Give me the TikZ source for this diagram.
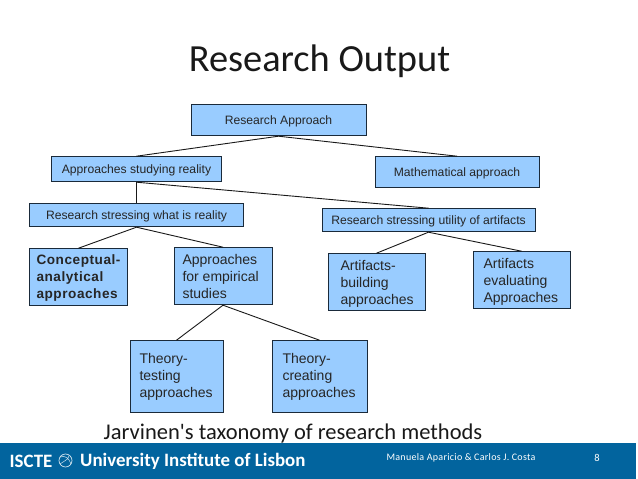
\documentclass[tikz,border=0pt]{standalone}
\usepackage{fontspec}
\setmainfont{Liberation Sans}
\newfontfamily\carlito{Carlito}
\definecolor{boxblue}{HTML}{99CCFF}
\definecolor{bandblue}{HTML}{02649E}
\definecolor{boxline}{HTML}{1A2A3A}
\tikzset{
  bx/.style={draw=boxline,fill=boxblue,line width=1bp,inner sep=0pt,font=\fontsize{12.15bp}{17bp}\selectfont,text=black!85},
  multi/.style={bx,align=left,font=\fontsize{14bp}{17bp}\selectfont},
  link/.style={draw=black!90,line width=0.9bp},
  banner/.style={inner sep=0pt,text=white,font=\carlito},
}
\newcommand{\boxat}[7][bx]{% style, name, x1,y1,x2,y2, text
  \pgfmathsetmacro{\cx}{(#3+#5)/2}\pgfmathsetmacro{\cy}{(#4+#6)/2+0.7}
  \pgfmathsetmacro{\bw}{#5-#3}\pgfmathsetmacro{\bh}{#6-#4}
  \node[#1,minimum width=\bw bp,minimum height=\bh bp] (#2) at (\cx,\cy) {};
  \node[#1,draw=none,fill=none] at (\cx,\cy+1.3) {#7};
}
\newcommand{\mboxat}[8]{% name, x1,y1,x2,y2, text x, text y, text
  \pgfmathsetmacro{\cx}{(#2+#4)/2}\pgfmathsetmacro{\cy}{(#3+#5)/2+0.7}
  \pgfmathsetmacro{\bw}{#4-#2}\pgfmathsetmacro{\bh}{#5-#3}
  \node[multi,minimum width=\bw bp,minimum height=\bh bp] (#1) at (\cx,\cy) {};
  \node[multi,draw=none,fill=none,anchor=west] at (#6,#7+0.8) {#8};
}
\begin{document}
\begin{tikzpicture}[x=1bp,y=-1bp]
\useasboundingbox (0,0) rectangle (638,479);
\fill[white] (0,0) rectangle (638,479);
\fill[bandblue] (0,442.5) rectangle (636,478.5);

\node[inner sep=0pt,font=\carlito\fontsize{38.4bp}{42bp}\selectfont,text=black!90] (title) at (319.5,61) {Research Output};
\node[inner sep=0pt,font=\carlito\fontsize{22.5bp}{26bp}\selectfont,text=black!90] (caption) at (293,433) {Jarvinen's taxonomy of research methods};

\boxat{ra}{191}{104}{366}{135}{Research Approach}
\boxat{asr}{52}{156}{221}{181}{Approaches studying reality}
\boxat{ma}{375}{156}{539}{187}{Mathematical approach}
\boxat{rsr}{30}{203}{243}{226}{Research stressing what is reality}
\boxat{rsu}{322}{208}{535}{231}{Research stressing utility of artifacts}
\mboxat{ca}{30}{248}{127}{305}{36}{277.5}{\fontsize{13.6bp}{17bp}\selectfont\bfseries\addfontfeatures{LetterSpace=4}Conceptual-\\\fontsize{13.6bp}{17bp}\selectfont\bfseries\addfontfeatures{LetterSpace=4}analytical\\\fontsize{13.6bp}{17bp}\selectfont\bfseries\addfontfeatures{LetterSpace=4}approaches}
\mboxat{es}{174}{247}{272}{304}{182}{276}{Approaches\\for empirical\\studies}
\mboxat{ab}{328}{253}{425}{310}{340}{283.5}{Artifacts-\\building\\approaches}
\mboxat{ae}{473}{251}{570}{308}{483}{281.5}{Artifacts\\evaluating\\Approaches}
\mboxat{tt}{130}{340}{223}{412}{139}{376}{Theory-\\testing\\approaches}
\mboxat{tc}{272}{340}{367}{412}{282}{376}{Theory-\\creating\\approaches}

\draw[link] (ra.south) -- (asr.north);
\draw[link] (ra.south) -- (ma.north);
\draw[link] (asr.south) -- (rsr.north);
\draw[link] (asr.south) -- (rsu.north);
\draw[link] (rsr.south) -- (ca.north);
\draw[link] (rsr.south) -- (es.north);
\draw[link] (rsu.south) -- (ab.north);
\draw[link] (rsu.south) -- (ae.north);
\draw[link] (es.south) -- (tt.north);
\draw[link] (es.south) -- (tc.north);

\node[banner,anchor=west,font=\carlito\bfseries\fontsize{18.9bp}{22bp}\selectfont] (isc) at (9.5,461.5) {ISCTE};
\draw[white,opacity=.8,line width=.7bp] (65.5,460.5) circle (6.5);
\draw[white,opacity=.8,line width=.5bp] (60,457) .. controls (65,455) and (69,458) .. (71,464) (60,464) .. controls (64,461) and (68,460) .. (69,456);
\node[banner,anchor=west,font=\carlito\bfseries\fontsize{18.9bp}{22bp}\selectfont] (uni) at (80,461.5) {University Institute of Lisbon};
\node[banner,font=\carlito\fontsize{10bp}{12bp}\selectfont] (auth) at (461,458) {\addfontfeatures{LetterSpace=3}Manuela Aparicio \& Carlos J. Costa};
\node[banner,font=\carlito\fontsize{10.5bp}{12bp}\selectfont] (pg) at (597,458) {8};
\end{tikzpicture}
\end{document}
